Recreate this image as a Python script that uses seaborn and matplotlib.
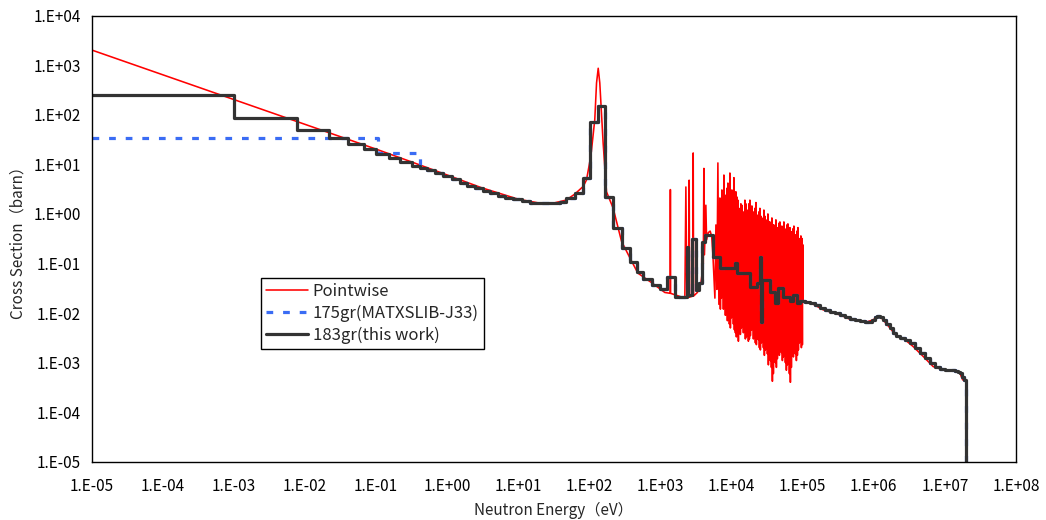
import math
import matplotlib
matplotlib.use("Agg")
import matplotlib.pyplot as plt
import seaborn as sns
from matplotlib.ticker import LogLocator, FuncFormatter, NullFormatter

# ---------------- data ----------------
# Pointwise cross section (eV, barn): thermal / resolved low part
pw_low_energy = [
    1e-5, 0.1, 0.3, 1.0, 3.0, 10.0, 20.0, 30.0, 47.0, 62.0, 82.0, 91.0, 105.0,
    119.0, 126.0, 133.0, 140.0, 156.0, 174.0, 216.0, 283.0, 371.0, 480.0, 750.0,
    1150.0, 1370.0, 1377.0, 1385.0, 2200.0, 2275.0, 2350.0, 2500.0, 2530.0,
    2570.0, 2850.0, 2884.0, 2920.0, 3300.0, 3700.0, 4000.0, 4074.0, 4150.0,
    4345.0, 4450.0, 4700.0, 5000.0, 5250.0, 5457.0, 5822.0, 6014.0, 6212.0,
    6416.0, 6627.0,
]
pw_low_sigma = [
    2030, 20.3, 11.5, 6.1, 3.4, 1.98, 1.65, 1.63, 1.9, 2.5, 3.6, 4.85, 15.0,
    80.0, 440.0, 870.0, 440.0, 27.0, 2.8, 1.3, 0.28, 0.13, 0.064, 0.041,
    0.026, 0.025, 3.1, 0.025, 0.020, 3.5, 0.020, 0.021, 4.8,
    0.021, 0.022, 17.0, 0.022, 0.026, 0.04, 0.1, 8.3, 0.15,
    1.5, 0.3, 0.42, 0.45, 0.35, 0.15, 0.02, 0.6, 0.03,
    10.7, 0.015,
]
# dense resolved resonances (peaks and valleys), 6.8 keV - 100 keV
pw_res_energy = [
    6845, 6957, 7070, 7186, 7303, 7422, 7545, 7668, 7792, 7919, 8050, 8181,
    8313, 8449, 8590, 8730, 8869, 9014, 9160, 9309, 9463, 9617, 9780, 9939,
    10100, 10265, 10430, 10600, 10770, 10946, 11130, 11311, 11490, 11677,
    11870, 12063, 12260, 12460, 12670, 12877, 13080, 13293, 13510, 13730,
    13960, 14188, 14420, 14655, 14890, 15133, 15380, 15631, 15890, 16149,
    16410, 16677, 16950, 17226, 17510, 17795, 18090, 18385, 18690, 18995,
    19300, 19615, 19940, 20265, 20590, 20926, 21270, 21617, 21970, 22328,
    22690, 23060, 23440, 23822, 24210, 24605, 25000, 25408, 25830, 26251,
    26680, 27115, 27560, 28009, 28460, 28924, 29400, 29879, 30370, 30865,
    31370, 31881, 32400, 32928, 33470, 34016, 34570, 35133, 35710, 36292,
    36880, 37481, 38090, 38711, 39350, 39991, 40650, 41313, 41980, 42664,
    43360, 44067, 44790, 45520, 46270, 47024, 47790, 48569, 49360, 50165,
    50990, 51821, 52670, 53529, 54400, 55287, 56190, 57106, 58040, 58986,
    59950, 60927, 61930, 62939, 63970, 65013, 66070, 67147, 68240, 69352,
    70490, 71639, 72810, 73997, 75210, 76436, 77690, 78956, 80240, 81548,
    82890, 84241, 85610, 87005, 88430, 89871, 91340, 92829, 94350, 95888,
    97450, 99038, 100000,
]
pw_res_sigma = [
    2.1, 0.012, 1.2, 0.02, 3.05, 0.03, 1.6, 0.012, 6.1, 0.018, 2.0, 0.009,
    2.4, 0.0116, 3.3, 0.007, 4.2, 0.0073, 1.5, 0.006, 6.7, 0.005, 2.2, 0.008,
    3.05, 0.009, 1.8, 0.006, 5.4, 0.0046, 1.4, 0.004, 2.8, 0.0033,
    2.2, 0.005, 1.9, 0.0027, 1.3, 0.004, 0.91, 0.0037, 1.6, 0.005,
    1.5, 0.0073, 0.8, 0.004, 1.1, 0.0046, 1.9, 0.003, 1.6, 0.0033,
    0.9, 0.004, 1.2, 0.0027, 1.6, 0.003, 1.9, 0.0035, 1.0, 0.0045,
    1.45, 0.006, 0.8, 0.003, 1.1, 0.0037, 1.3, 0.0025, 1.7, 0.0023,
    0.7, 0.003, 0.95, 0.0029, 1.1, 0.002, 1.3, 0.0018, 0.9, 0.0025,
    0.83, 0.0037, 0.6, 0.002, 1.2, 0.0014, 0.9, 0.0018, 0.76, 0.0023,
    0.55, 0.0015, 1.0, 0.0009, 0.7, 0.0012, 0.69, 0.0011, 0.5, 0.0008,
    0.83, 0.00042, 0.6, 0.0006, 0.6, 0.0014, 0.45, 0.001, 0.76, 0.0008,
    0.5, 0.0012, 0.53, 0.0018, 0.65, 0.0014, 0.69, 0.0023, 0.45, 0.0016,
    0.57, 0.0011, 0.4, 0.0013, 0.69, 0.0016, 0.5, 0.001, 0.48, 0.0007,
    0.6, 0.0009, 0.63, 0.0011, 0.42, 0.0006, 0.53, 0.0004, 0.4, 0.0008,
    0.44, 0.0018, 0.5, 0.0013, 0.57, 0.0023, 0.35, 0.0015, 0.38, 0.0011,
    0.45, 0.0014, 0.53, 0.0018, 0.32, 0.0025, 0.30, 0.0029, 0.36, 0.002,
    0.32, 0.0023, 0.24,
]
# smooth fast region
pw_high_energy = [
    101000, 126000, 194500, 333600, 461700, 792600, 982000, 1117000, 1288000,
    1687000, 2095000, 2740000, 3590000, 4960000, 6850000, 9480000, 13840000,
    16290000, 17780000, 19770000,
]
pw_high_sigma = [
    0.0177, 0.0165, 0.0116, 0.0092, 0.0075, 0.0066, 0.0073, 0.0085, 0.0079,
    0.0050, 0.0034, 0.0029, 0.0021, 0.00133, 0.00083, 0.00072, 0.00068,
    0.00061, 0.00045, 0.00042,
]

# 183-group library: lower group edges (eV), last entry = upper edge
g183_edges = [
    1e-5, 1e-3, 7.8e-3, 0.0216, 0.04, 0.068, 0.1, 0.152, 0.215, 0.32,
    0.42, 0.512, 0.67, 0.875, 1.15, 1.5, 1.87, 2.45, 3.2, 3.97, 5.2, 6.46,
    8.45, 11.1, 14.5, 18.0, 26.0, 38.4, 47.6, 62.4, 81.6, 101.0, 133.0,
    165.0, 216.0, 283.0, 371.0, 460.0, 570.0, 748.0, 980.0, 1241.0, 1592.0,
    2328.0, 2449.0, 2735.0, 3143.0, 3497.0, 3782.0, 4208.0, 5508.0, 6845.0,
    11120.0, 11750.0, 18080.0, 22450.0, 25000.0, 26240.0, 26800.0, 34580.0,
    40640.0, 45200.0, 53200.0, 66070.0, 73500.0, 82000.0,
    91340, 107400, 126200, 148500, 174600, 205300, 241400, 283900, 333600,
    392400, 461400, 542400, 638000, 749900, 853700, 941200, 1037000, 1125000,
    1219000, 1343000, 1482000, 1687000, 1858000, 2048000, 2333000, 2742000,
    3223000, 3790000, 4456000, 5237000, 6157000, 7238000, 8510000, 10000000,
    11770000, 13840000, 15250000, 16290000, 17370000, 18520000,
    19770000,
]
g183_sigma = [
    250.0, 86.0, 49.0, 34.0, 25.8, 20.5, 16.3, 13.3, 11.4, 9.4,
    8.5, 7.72, 6.63, 5.85, 5.01, 4.28, 3.68, 3.30, 2.95, 2.62, 2.31,
    2.13, 1.98, 1.81, 1.69, 1.65, 1.66, 1.77, 2.07, 2.62, 5.25, 72.8,
    151.0, 2.24, 0.515, 0.204, 0.109, 0.0687, 0.048, 0.037, 0.0303, 0.053,
    0.0215, 0.219, 0.0233, 0.313, 0.0293, 0.040, 0.277, 0.378, 0.138,
    0.0826, 0.104, 0.0637, 0.0342, 0.040, 0.138, 0.0067, 0.0467, 0.0271,
    0.0158, 0.0318, 0.0215, 0.0171, 0.0233, 0.0158,
    0.0172, 0.0168, 0.0158, 0.0143, 0.0124, 0.0113, 0.0106, 0.0099, 0.0092,
    0.0082, 0.0075, 0.0071, 0.0068, 0.0066, 0.0066, 0.0071, 0.0082, 0.0086,
    0.0082, 0.0073, 0.0061, 0.0050, 0.0040, 0.0034, 0.0032, 0.0029,
    0.00245, 0.0020, 0.00157, 0.00125, 0.00097, 0.00082, 0.00075, 0.00071,
    0.00070, 0.00068, 0.00065, 0.00061, 0.00052, 0.00044,
]

# 175-group library (MATXSLIB-J33): thermal groups that differ,
# above 0.42 eV it coincides with the 183-group values
g175_low_edges = [1e-5, 0.106]
g175_low_sigma = [34.6, 16.8]
g175_join_energy = 0.42

labels = ["Pointwise", "175gr(MATXSLIB-J33)", "183gr(this work)"]

# ---------------- assemble ----------------
pw_energy = pw_low_energy + pw_res_energy + pw_high_energy
pw_sigma = pw_low_sigma + pw_res_sigma + pw_high_sigma

BOTTOM = 1e-7
bx = g183_edges[:-1] + [g183_edges[-1], g183_edges[-1]]
by = g183_sigma + [g183_sigma[-1], BOTTOM]

join = g183_edges.index(g175_join_energy)
e175 = g175_low_edges + g183_edges[join:-1]
s175 = g175_low_sigma + g183_sigma[join:]
b2x = e175 + [g183_edges[-1], g183_edges[-1]]
b2y = s175 + [s175[-1], BOTTOM]

# ---------------- figure ----------------
sns.set_style("white")
plt.rcParams["font.family"] = ["Noto Sans CJK JP", "DejaVu Sans"]
plt.rcParams["font.size"] = 11

fig = plt.figure(figsize=(10.46, 5.2), dpi=100)
ax = fig.add_axes([0.0877, 0.1121, 0.8836, 0.8577])
ax.set_xscale("log")
ax.set_yscale("log")

sns.lineplot(x=pw_energy, y=pw_sigma, ax=ax, sort=False, estimator=None,
             color="#ff0000", linewidth=1.15, label=labels[0])
sns.lineplot(x=b2x, y=b2y, ax=ax, sort=False, estimator=None,
             color="#3a6cf4", linewidth=2.3, drawstyle="steps-post",
             label=labels[1])
ax.lines[-1].set_linestyle((0, (2.1, 3.1)))
sns.lineplot(x=bx, y=by, ax=ax, sort=False, estimator=None,
             color="#333333", linewidth=2.3, drawstyle="steps-post",
             label=labels[2])

ax.set_xlim(1e-5, 1e8)
ax.set_ylim(1e-5, 1e4)

fmt = FuncFormatter(lambda v, p: "1.E{:+03d}".format(int(round(math.log10(v)))))
ax.xaxis.set_major_locator(LogLocator(base=10, numticks=20))
ax.yaxis.set_major_locator(LogLocator(base=10, numticks=20))
ax.xaxis.set_minor_locator(LogLocator(base=10, subs=range(2, 10), numticks=200))
ax.yaxis.set_minor_locator(LogLocator(base=10, subs=range(2, 10), numticks=200))
ax.xaxis.set_major_formatter(fmt)
ax.yaxis.set_major_formatter(fmt)
ax.xaxis.set_minor_formatter(NullFormatter())
ax.yaxis.set_minor_formatter(NullFormatter())

ax.tick_params(axis="both", which="major", direction="in", length=4.5,
               width=0.8, color="black", labelsize=11, labelcolor="black")
ax.tick_params(axis="both", which="minor", direction="in", length=2.5,
               width=0.8, color="black")
ax.tick_params(axis="x", which="major", pad=12)
ax.tick_params(axis="y", which="major", pad=8)

for s in ax.spines.values():
    s.set_visible(True)
    s.set_color("black")
    s.set_linewidth(1.0)

ax.set_xlabel("Neutron Energy（eV）", fontsize=11, labelpad=5)
ax.set_ylabel("Cross Section（barn）", fontsize=11, labelpad=5)

leg = ax.legend(loc="upper left", bbox_to_anchor=(0.183, 0.412),
                frameon=True, fancybox=False, edgecolor="black",
                framealpha=1.0, fontsize=12, handlelength=2.5,
                handletextpad=0.3, borderpad=0.3, labelspacing=0.28,
                borderaxespad=0.0)
leg.get_frame().set_linewidth(1.0)

fig.savefig("out.png", dpi=100)
